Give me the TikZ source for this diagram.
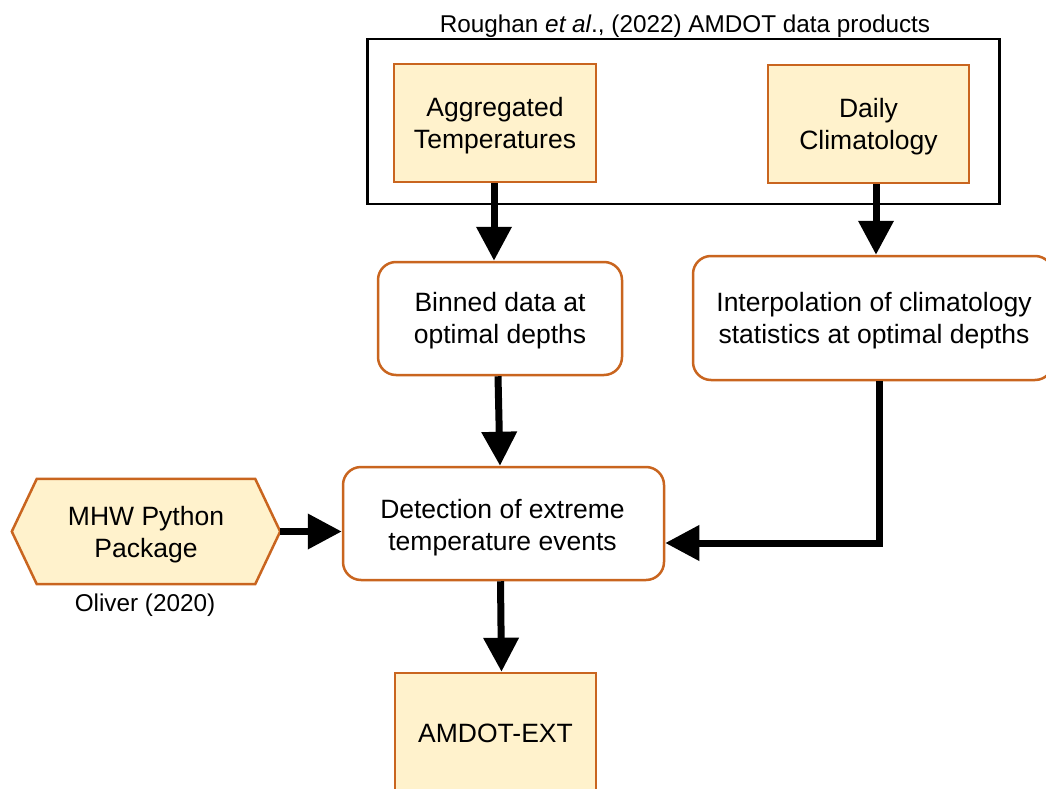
\documentclass[tikz,border=0pt]{standalone}
\usepackage{fontspec}
\setmainfont{Liberation Sans}
\usetikzlibrary{arrows.meta,calc}
\definecolor{boxfill}{HTML}{FFF2CC}
\definecolor{boxline}{HTML}{C9651F}
\begin{document}
\begin{tikzpicture}[x=1pt,y=-1pt,
  txt/.style={font=\fontsize{26.5}{32}\selectfont, align=center},
  lbl/.style={font=\fontsize{24.3}{28}\selectfont},
  databox/.style={draw=boxline, fill=boxfill, line width=2.5pt, inner sep=0pt},
  procbox/.style={draw=boxline, fill=white, line width=2.5pt, rounded corners=18pt, inner sep=0pt},
  flow/.style={line width=7pt, -{Triangle[length=34pt,width=34pt]}},
]
\useasboundingbox (0,0) rectangle (1046,789);
% outer group box
\node[draw=black, line width=2.5pt, minimum width=632pt, minimum height=165pt, inner sep=0pt] (group) at (683.5,121.5) {};
\node[lbl] (grouplabel) at (685,26) {Roughan \textit{et al}., (2022) AMDOT data products};
% data boxes
\node[databox, minimum width=202pt, minimum height=118pt] (agg) at (495,123) {};
\node[txt] (aggtext) at ([yshift=-3pt]agg.center) {Aggregated\\Temperatures};
\node[databox, minimum width=201pt, minimum height=118pt] (daily) at (868.5,124) {};
\node[txt] (dailytext) at ([yshift=-3pt]daily.center) {Daily\\Climatology};
% process boxes
\node[procbox, minimum width=244pt, minimum height=113pt] (binned) at (500,318.5) {};
\node[txt] (binnedtext) at ([yshift=-2pt]binned.center) {Binned data at\\optimal depths};
\node[procbox, minimum width=360pt, minimum height=124pt] (interp) at (873,318) {};
\node[txt] (interptext) at ([xshift=1pt,yshift=-3pt]interp.center) {Interpolation of climatology\\statistics at optimal depths};
\node[procbox, minimum width=321pt, minimum height=113pt] (detect) at (503.5,523.5) {};
\node[txt] (detecttext) at ([xshift=-1pt,yshift=-4pt]detect.center) {Detection of extreme\\temperature events};
% hexagon
\node[minimum width=268pt, minimum height=105pt, inner sep=0pt] (hex) at (146,531.5) {};
\draw[boxline, fill=boxfill, line width=2.5pt, line join=miter] (hex.west) -- ($(hex.north west)+(25,0)$) -- ($(hex.north east)+(-25,0)$) -- (hex.east) -- ($(hex.south east)+(-25,0)$) -- ($(hex.south west)+(25,0)$) -- cycle;
\node[txt] (hextext) at ([yshift=-3pt]hex.center) {MHW Python\\Package};
\node[lbl] (oliver) at (145,605) {Oliver (2020)};
% output box
\node[databox, minimum width=201pt, minimum height=130pt] (ext) at (495.5,738) {};
\node[txt] (exttext) at (495.5,733) {AMDOT-EXT};
% connectors
\draw[flow] ([xshift=-1pt]agg.south) -- ([xshift=-1pt]agg.south |- binned.north);
\draw[flow] ([xshift=7.5pt]daily.south) -- ([xshift=7.5pt]daily.south |- interp.north);
\draw[flow] ([xshift=-2pt]binned.south) -- (binned.south |- detect.north);
\coordinate (bend) at (879,543);
\draw[flow] (interp.south -| bend) -- (bend) -- (bend -| detect.east);
\draw[flow] (hex.east) -- (detect.west |- hex.east);
\draw[flow] ([xshift=-3pt]detect.south) -- ([xshift=-2pt]detect.south |- ext.north);
\end{tikzpicture}
\end{document}
